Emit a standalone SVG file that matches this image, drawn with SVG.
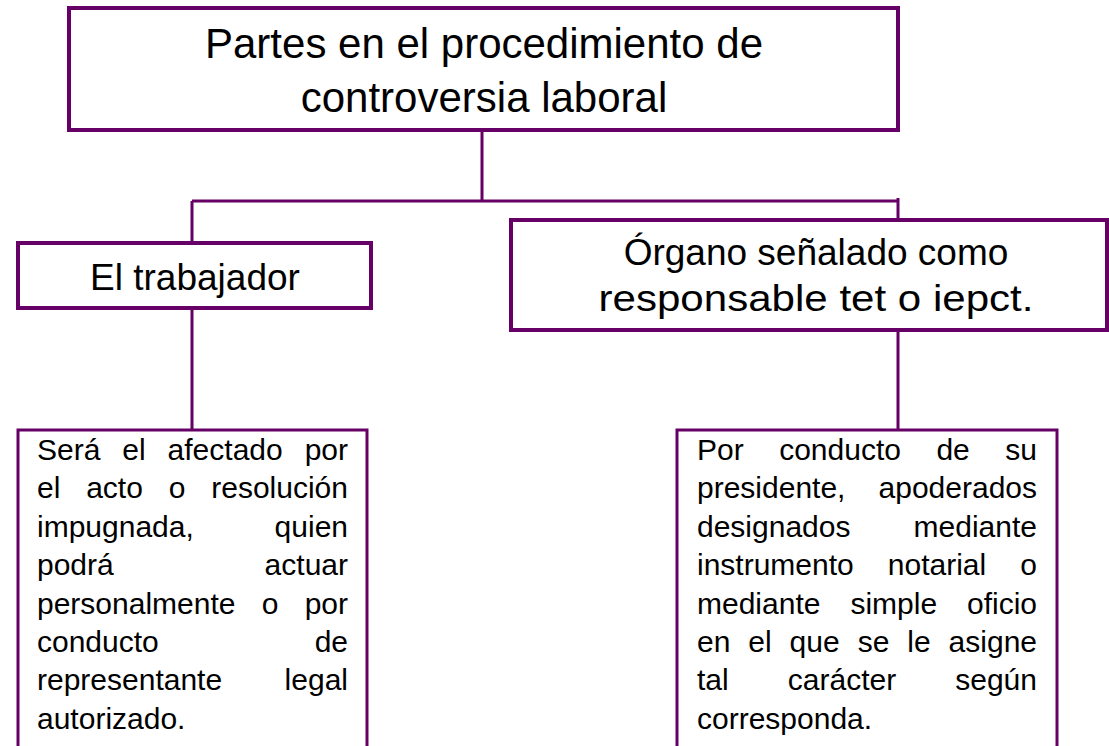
<svg xmlns="http://www.w3.org/2000/svg" width="1109" height="746" viewBox="0 0 1109 746">
<style>
.box{fill:#ffffff;stroke:#660066;stroke-width:4}
.lbox{fill:#ffffff;stroke:#660066;stroke-width:3}
.con{stroke:#660066;stroke-width:3;fill:none}
text{font-family:"Liberation Sans",Arial,sans-serif;fill:#000000}
.t1{font-size:42px;text-anchor:middle}
.t2{font-size:37px;text-anchor:middle}
.b{font-size:30px}
.e{text-anchor:end}
</style>
<rect x="0" y="0" width="1109" height="746" fill="#ffffff"/>
<g id="connectors">
<path class="con" d="M482 130 V201 M192 201 H898 M192 201 V243 M898 198 V220 M192 308 V430 M898 330 V430"/>
</g>
<g id="title">
<rect class="box" x="69" y="8" width="829" height="122"/>
<text class="t1" x="484" y="58">Partes en el procedimiento de</text>
<text class="t1" x="484" y="112">controversia laboral</text>
</g>
<g id="trabajador">
<rect class="box" x="18" y="243" width="353" height="65"/>
<text class="t2" x="195" y="290">El trabajador</text>
</g>
<g id="organo">
<rect class="box" x="511" y="220" width="596" height="110"/>
<text class="t2" x="816" y="265">Órgano señalado como</text>
<text class="t2" x="816" y="311" textLength="435" lengthAdjust="spacingAndGlyphs">responsable tet o iepct.</text>
</g>
<g id="trabajador-desc">
<rect class="lbox" x="18" y="430" width="349" height="330"/>
<text class="b" y="460"><tspan x="37">Será</tspan><tspan x="122.3">el</tspan><tspan x="167.6">afectado</tspan></text>
<text class="b e" x="348" y="460">por</text>
<text class="b" y="498.4"><tspan x="37">el</tspan><tspan x="86.2">acto</tspan><tspan x="168.8">o</tspan></text>
<text class="b e" x="348" y="498.4">resolución</text>
<text class="b" x="37" y="536.8">impugnada,</text>
<text class="b e" x="348" y="536.8">quien</text>
<text class="b" x="37" y="575.2">podrá</text>
<text class="b e" x="348" y="575.2">actuar</text>
<text class="b" y="613.6"><tspan x="37">personalmente</tspan><tspan x="261.7">o</tspan></text>
<text class="b e" x="348" y="613.6">por</text>
<text class="b" x="37" y="652">conducto</text>
<text class="b e" x="348" y="652">de</text>
<text class="b" x="37" y="690.4">representante</text>
<text class="b e" x="348" y="690.4">legal</text>
<text class="b" x="37" y="728.8">autorizado.</text>
</g>
<g id="organo-desc">
<rect class="lbox" x="677" y="430" width="380" height="330"/>
<text class="b" y="460"><tspan x="697">Por</tspan><tspan x="779.2">conducto</tspan><tspan x="936.4">de</tspan></text>
<text class="b e" x="1037" y="460">su</text>
<text class="b" x="697" y="498.4">presidente,</text>
<text class="b e" x="1037" y="498.4">apoderados</text>
<text class="b" x="697" y="536.8">designados</text>
<text class="b e" x="1037" y="536.8">mediante</text>
<text class="b" y="575.2"><tspan x="697">instrumento</tspan><tspan x="887.8">notarial</tspan></text>
<text class="b e" x="1037" y="575.2">o</text>
<text class="b" y="613.6"><tspan x="697">mediante</tspan><tspan x="850.4">simple</tspan></text>
<text class="b e" x="1037" y="613.6">oficio</text>
<text class="b" y="652"><tspan x="697">en</tspan><tspan x="748.3">el</tspan><tspan x="789.6">que</tspan><tspan x="857.7">se</tspan><tspan x="907.3">le</tspan></text>
<text class="b e" x="1037" y="652">asigne</text>
<text class="b" y="690.4"><tspan x="697">tal</tspan><tspan x="787.8">carácter</tspan></text>
<text class="b e" x="1037" y="690.4">según</text>
<text class="b" x="697" y="728.8">corresponda.</text>
</g>
</svg>
